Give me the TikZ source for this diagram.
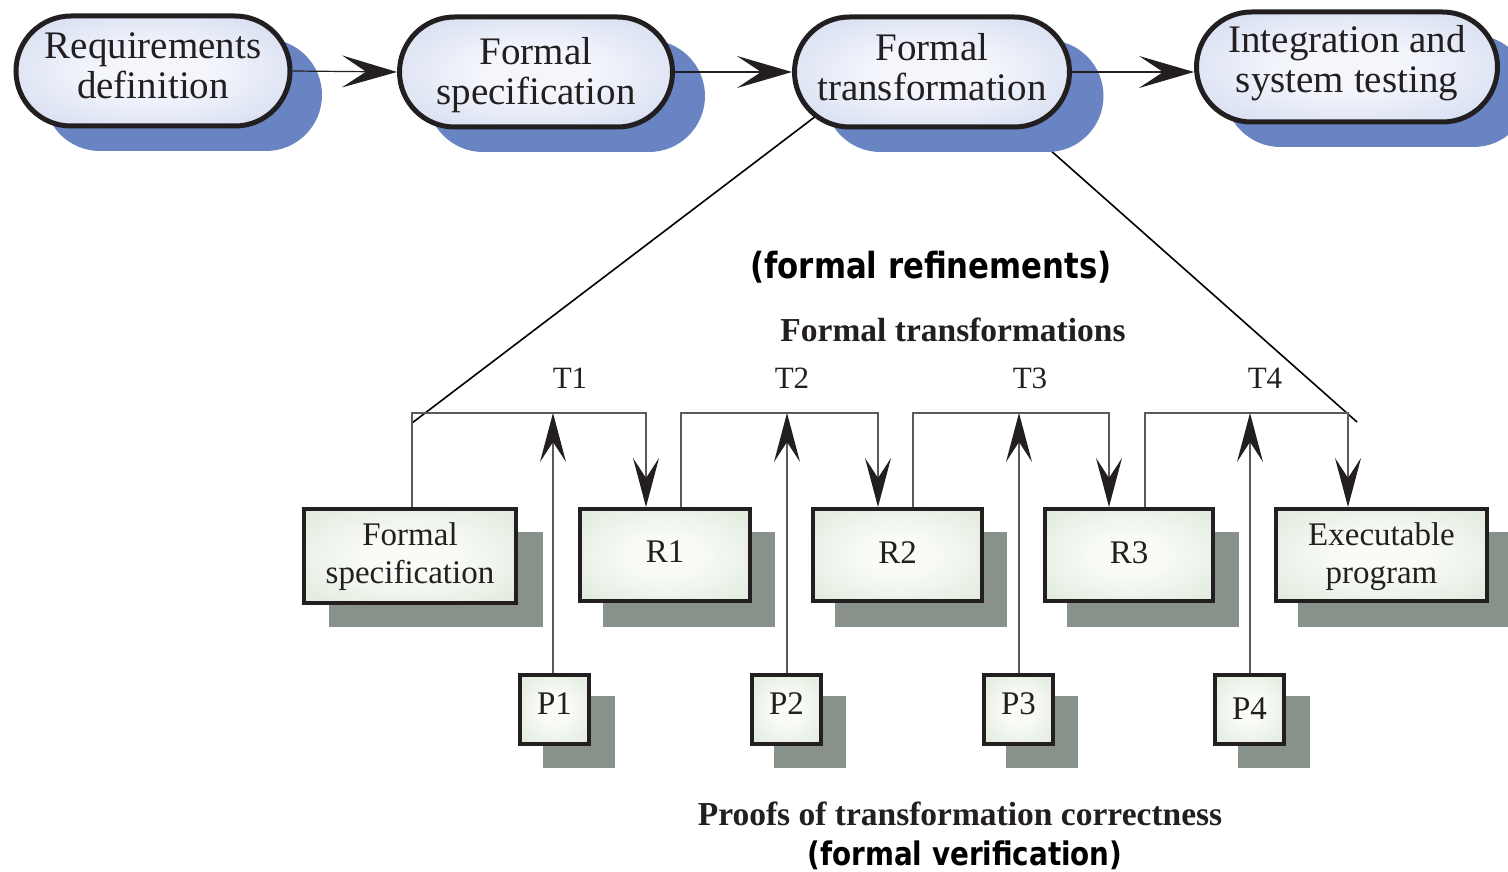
\documentclass[tikz,border=0pt]{standalone}
\usepackage{fontspec}
\setmainfont{Liberation Serif}
\newfontfamily\lblsans[FakeStretch=0.855]{DejaVu Sans}
\usetikzlibrary{shapes.misc,arrows.meta}
\definecolor{shblue}{RGB}{104,132,194}
\definecolor{stin}{RGB}{244,246,252}
\definecolor{stout}{RGB}{190,202,232}
\definecolor{bxin}{RGB}{249,251,247}
\definecolor{bxout}{RGB}{210,224,205}
\definecolor{shgray}{RGB}{137,146,138}
\definecolor{ink}{RGB}{35,31,32}
\definecolor{lineg}{RGB}{90,90,90}
\pgfdeclareradialshading{stadshade}{\pgfpoint{0bp}{0bp}}{color(0bp)=(stin); color(10bp)=(stin); color(50bp)=(stout); color(100bp)=(stout)}
\pgfdeclareradialshading{boxshade}{\pgfpoint{0bp}{0bp}}{color(0bp)=(bxin); color(10bp)=(bxin); color(50bp)=(bxout); color(100bp)=(bxout)}
\newcommand{\twoline}[2]{\raisebox{#1}[0pt][0pt]{\begin{tabular}[b]{@{}c@{}}#2\end{tabular}}}
\newcommand{\oneline}[2]{\raisebox{#1}[0pt][0pt]{#2}}
\begin{document}
\begin{tikzpicture}[x=1pt,y=-1pt,
  stad/.style={rounded rectangle, draw=ink, line width=5pt, shading=stadshade,
    minimum width=#1, minimum height=110pt, inner sep=0pt, text=ink,
    font=\fontsize{39}{40}\selectfont},
  stadsh/.style={rounded rectangle, fill=shblue, draw=none, minimum width=#1,
    minimum height=112pt, inner sep=0pt},
  bx/.style={rectangle, draw=ink, line width=4pt, shading=boxshade,
    minimum width=#1, inner sep=0pt, text=ink, font=\fontsize{33}{38}\selectfont},
  bxsh/.style={rectangle, fill=shgray, draw=none, minimum width=#1, inner sep=0pt},
  big/.style={draw=ink, line width=1.2pt, -{Stealth[length=55pt,width=32pt,inset=24pt]}},
  conn/.style={draw=lineg, line width=1.1pt, -{Stealth[length=49pt,width=26pt,inset=20pt,color=ink]}},
  diag/.style={draw=black, line width=1.6pt},
  bsans/.style={font=\lblsans\bfseries\fontsize{36}{40}\selectfont, text=black, inner sep=0pt},
  bserif/.style={font=\bfseries\fontsize{33.5}{38}\selectfont, text=ink, inner sep=0pt},
  tlab/.style={font=\fontsize{31}{36}\selectfont, text=ink, inner sep=0pt}
]
\fill[white] (0,0) rectangle (1508,872);
\useasboundingbox (0,0) rectangle (1508,872);
\clip (0,0) rectangle (1508,872);

% diagonals (drawn beneath shapes)
\coordinate (dl1) at (816,116);
\coordinate (dl2) at (412,423);
\coordinate (dr1) at (1049,149);
\coordinate (dr2) at (1357,422);
\draw[diag] (dl1) -- (dl2);
\draw[diag] (dr1) -- (dr2);

% stadium shadows
\node[stadsh=278pt] (As) at (183,95) {};
\node[stadsh=278pt] (Bs) at (566,96) {};
\node[stadsh=279pt] (Cs) at (964,96) {};
\node[stadsh=305pt] (Ds) at (1377,91) {};

% stadiums
\node[stad=274pt] (A) at (153,71) {\twoline{-28pt}{Requirements\\definition}};
\node[stad=273pt] (B) at (536,72) {\twoline{-33pt}{Formal\\specification}};
\node[stad=275pt] (C) at (932,72) {\twoline{-29pt}{Formal\\transformation}};
\node[stad=301pt] (D) at (1347,67) {\twoline{-26pt}{Integration and\\system testing}};

\draw[big] (A.east) -- (B.west);
\draw[big] (B.east) -- (C.west);
\draw[big] (C.east) -- (C.east -| D.west);

% labels
\node[bsans] (refn) at (931,267) {(formal refinements)};
\node[bserif] (ftr) at (953,330) {Formal transformations};
\node[tlab] (T1) at (570,378) {T1};
\node[tlab] (T2) at (792,378) {T2};
\node[tlab] (T3) at (1030,378) {T3};
\node[tlab] (T4) at (1265,378) {T4};
\node[bserif] (proofs) at (960,814) {Proofs of transformation correctness};
\node[bsans, font=\lblsans\bfseries\fontsize{32.5}{38}\selectfont] (verif) at (965,855) {(formal verification)};

% box shadows
\node[bxsh=214pt, minimum height=95pt] (FSs) at (436,579) {};
\node[bxsh=172pt, minimum height=95pt] (R1s) at (689,579) {};
\node[bxsh=172pt, minimum height=95pt] (R2s) at (921,579) {};
\node[bxsh=172pt, minimum height=95pt] (R3s) at (1153,579) {};
\node[bxsh=214pt, minimum height=95pt] (EPs) at (1405,579) {};
\node[bxsh=72pt, minimum height=72pt] (P1s) at (579,732) {};
\node[bxsh=72pt, minimum height=72pt] (P2s) at (810,732) {};
\node[bxsh=72pt, minimum height=72pt] (P3s) at (1042,732) {};
\node[bxsh=72pt, minimum height=72pt] (P4s) at (1274,732) {};

% boxes
\node[bx=212pt, minimum height=94pt] (FS) at (410,556) {\twoline{-27pt}{Formal\\specification}};
\node[bx=170pt, minimum height=92pt] (R1) at (665,555) {\oneline{-7pt}{R1}};
\node[bx=169pt, minimum height=92pt] (R2) at (897.5,555) {\oneline{-8pt}{R2}};
\node[bx=168pt, minimum height=92pt] (R3) at (1129,555) {\oneline{-8pt}{R3}};
\node[bx=211pt, minimum height=92pt] (EP) at (1381.5,555) {\twoline{-28pt}{Executable\\program}};
\node[bx=69pt, minimum height=69pt] (P1) at (554.5,709) {\oneline{-5pt}{P1}};
\node[bx=69pt, minimum height=69pt] (P2) at (786.5,709) {\oneline{-5pt}{P2}};
\node[bx=69pt, minimum height=69pt] (P3) at (1018.5,709) {\oneline{-5pt}{P3}};
\node[bx=69pt, minimum height=69pt] (P4) at (1249.5,709) {\oneline{-10pt}{P4}};

% refinement brackets
\draw[conn] ([xshift=2pt]FS.north) -- ++(0,-94) -| ([xshift=-19pt]R1.north);
\draw[conn] ([xshift=16pt]R1.north) -- ++(0,-94) -| ([xshift=-19.5pt]R2.north);
\draw[conn] ([xshift=15.5pt]R2.north) -- ++(0,-94) -| ([xshift=-20pt]R3.north);
\draw[conn] ([xshift=16pt]R3.north) -- ++(0,-94) -| ([xshift=-33.5pt]EP.north);

% proof arrows
\coordinate (j1) at (553,413);
\coordinate (j2) at (787,413);
\coordinate (j3) at (1019,413);
\coordinate (j4) at (1250,413);
\draw[conn] (P1.north -| j1) -- (j1);
\draw[conn] (P2.north -| j2) -- (j2);
\draw[conn] (P3.north -| j3) -- (j3);
\draw[conn] (P4.north -| j4) -- (j4);
\end{tikzpicture}
\end{document}
